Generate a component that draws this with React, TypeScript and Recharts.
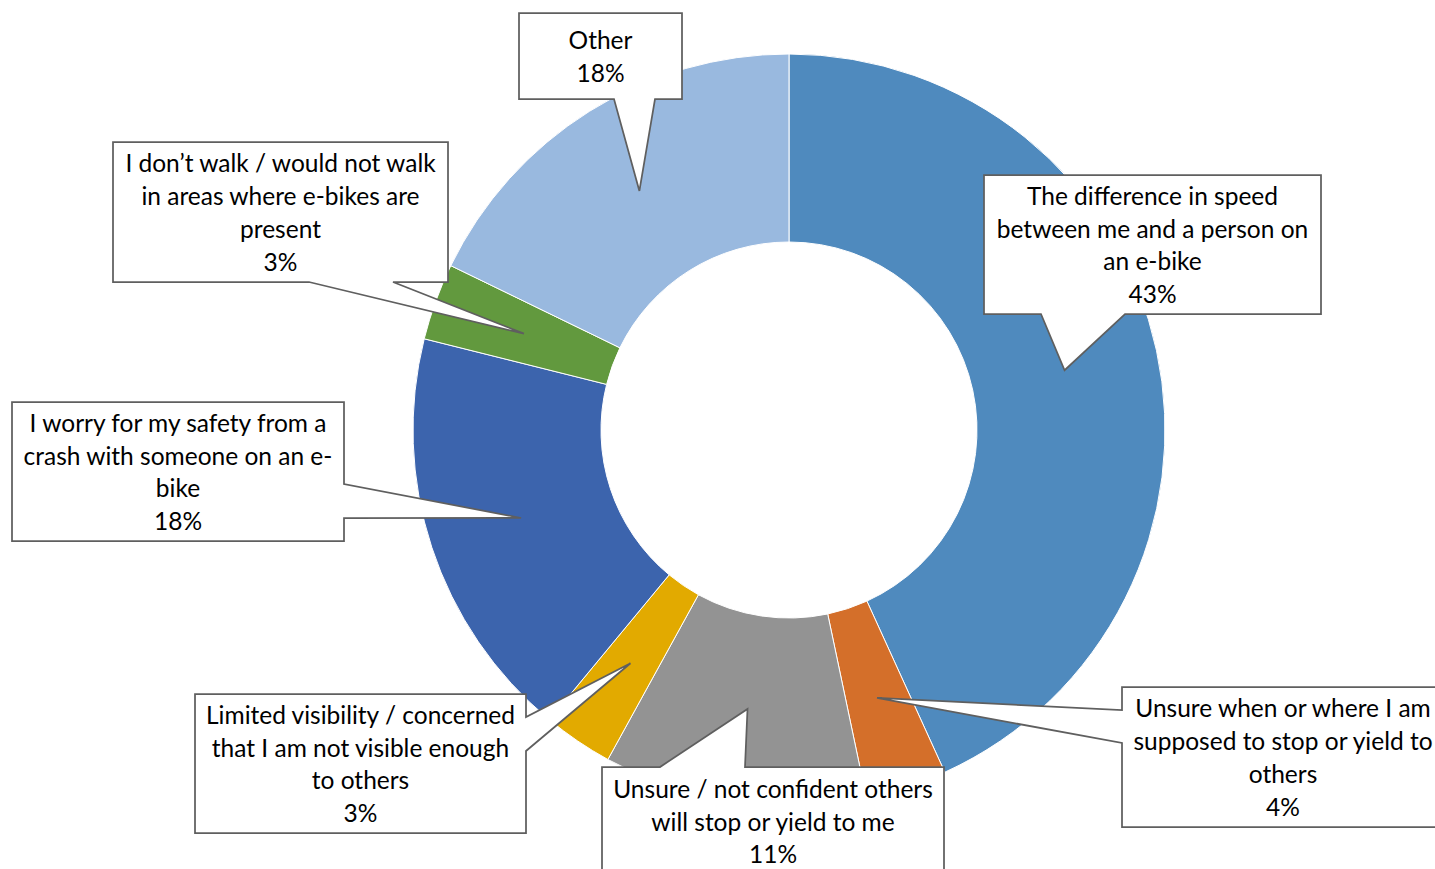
import React from 'react';
import { PieChart, Pie, Cell } from 'recharts';

// ---- data ----
const categories: string[] = [
  'The difference in speed between me and a person on an e-bike',
  'Unsure when or where I am supposed to stop or yield to others',
  'Unsure / not confident others will stop or yield to me',
  'Limited visibility / concerned that I am not visible enough to others',
  'I worry for my safety from a crash with someone on an e-bike',
  'I don’t walk / would not walk in areas where e-bikes are present',
  'Other',
];
// shares (percent)
const shares: number[] = [43.2, 3.5, 11.3, 3.0, 17.9, 3.3, 17.8];
const labelLines: string[][] = [
  ['The difference in speed', 'between me and a person on', 'an e-bike'],
  ['Unsure when or where I am', 'supposed to stop or yield to', 'others'],
  ['Unsure / not confident others', 'will stop or yield to me'],
  ['Limited visibility / concerned', 'that I am not visible enough', 'to others'],
  ['I worry for my safety from a', 'crash with someone on an e-', 'bike'],
  ['I don’t walk / would not walk', 'in areas where e-bikes are', 'present'],
  ['Other'],
];

// ---- styles / layout ----
const colors: string[] = ['#4F8ABE', '#D46F2A', '#939393', '#E2AA00', '#3C64AD', '#62993E', '#99B9DF'];

type Side = 'top' | 'bottom' | 'left' | 'right';
interface Callout { x: number; y: number; w: number; h: number; side: Side; b1: number; b2: number }
const calloutLayout: Callout[] = [
  { x: 984, y: 175, w: 337, h: 139, side: 'bottom', b1: 1041, b2: 1125 },
  { x: 1122, y: 687, w: 322, h: 140, side: 'left', b1: 710, b2: 743 },
  { x: 602, y: 767, w: 342, h: 108, side: 'top', b1: 660, b2: 745 },
  { x: 195, y: 694, w: 331, h: 139, side: 'right', b1: 717, b2: 751 },
  { x: 12, y: 402, w: 332, h: 139, side: 'right', b1: 484, b2: 518 },
  { x: 113, y: 142, w: 335, h: 140, side: 'bottom', b1: 309, b2: 393 },
  { x: 519, y: 13, w: 163, h: 86, side: 'bottom', b1: 614, b2: 655 },
];

const FONT = 'Lato, "Open Sans", sans-serif';
const FONT_SIZE = 24.5;
const LINE_H = 32.7;

const data = categories.map((name, i) => ({ name, value: shares[i] }));

const RADIAN = Math.PI / 180;

function calloutPath(c: Callout, tx: number, ty: number): string {
  const { x, y, w, h, side, b1, b2 } = c;
  const r = x + w;
  const b = y + h;
  switch (side) {
    case 'bottom':
      return `M${x},${y} L${r},${y} L${r},${b} L${b2},${b} L${tx},${ty} L${b1},${b} L${x},${b} Z`;
    case 'top':
      return `M${x},${y} L${b1},${y} L${tx},${ty} L${b2},${y} L${r},${y} L${r},${b} L${x},${b} Z`;
    case 'left':
      return `M${x},${y} L${r},${y} L${r},${b} L${x},${b} L${x},${b2} L${tx},${ty} L${x},${b1} Z`;
    default:
      return `M${x},${y} L${r},${y} L${r},${b1} L${tx},${ty} L${r},${b2} L${r},${b} L${x},${b} Z`;
  }
}

const renderCallout = (props: any) => {
  const { cx, cy, midAngle, innerRadius, outerRadius, index, percent } = props;
  const c = calloutLayout[index];
  const rMid = (innerRadius + outerRadius) / 2;
  const tx = cx + rMid * Math.cos(-midAngle * RADIAN);
  const ty = cy + rMid * Math.sin(-midAngle * RADIAN);
  const lines = [...labelLines[index], `${Math.round(percent * 100)}%`];
  const n = lines.length;
  const centerX = c.x + c.w / 2;
  const centerY = c.y + c.h / 2;
  return (
    <g key={`callout-${index}`}>
      <path d={calloutPath(c, tx, ty)} fill="#FFFFFF" stroke="#5F5F5F" strokeWidth={1.75} strokeLinejoin="miter" />
      <text x={centerX} textAnchor="middle" fontFamily={FONT} fontSize={FONT_SIZE} fill="#000000">
        {lines.map((ln, i) => (
          <tspan key={i} x={centerX} y={centerY + (i - (n - 1) / 2) * LINE_H} dominantBaseline="central">
            {ln}
          </tspan>
        ))}
      </text>
    </g>
  );
};

export default function App() {
  return (
    <div style={{ position: 'absolute', left: 0, top: 0, width: 1435, height: 869, background: '#FFFFFF' }}>
      <PieChart width={1435} height={869} margin={{ top: 0, right: 0, bottom: 0, left: 0 }}>
        <Pie
          data={data}
          dataKey="value"
          nameKey="name"
          cx={789}
          cy={430}
          innerRadius={188}
          outerRadius={376}
          startAngle={90}
          endAngle={-270}
          stroke="#FFFFFF"
          strokeWidth={1}
          label={renderCallout}
          labelLine={false}
          isAnimationActive={false}
        >
          {data.map((d, i) => (
            <Cell key={d.name} fill={colors[i]} />
          ))}
        </Pie>
      </PieChart>
    </div>
  );
}
